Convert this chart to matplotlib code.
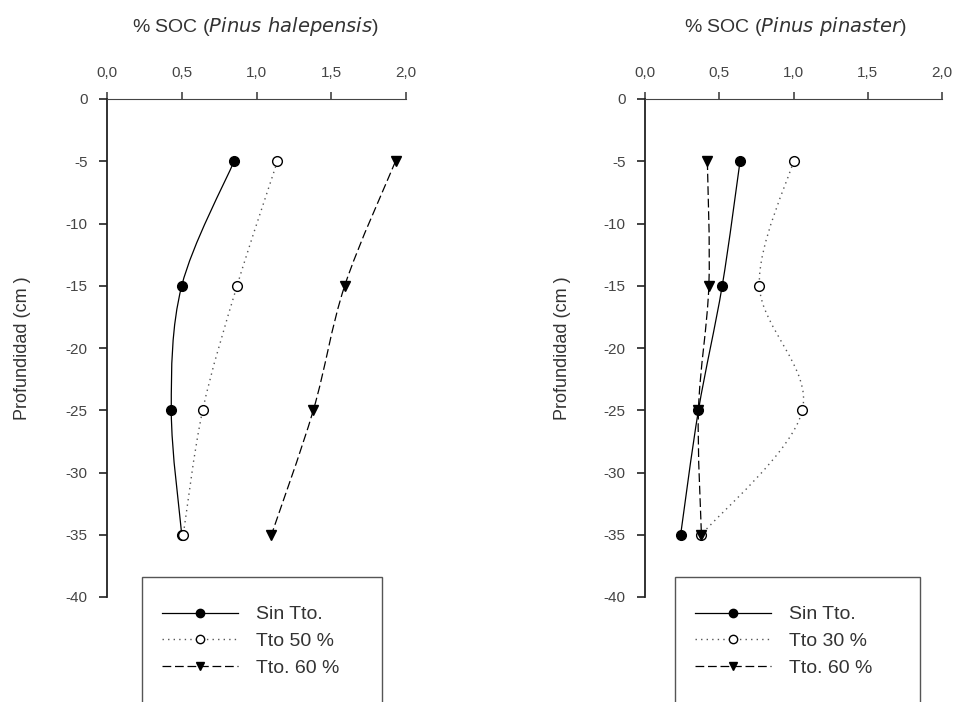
import numpy as np
import matplotlib.pyplot as plt
from matplotlib.path import Path
from matplotlib.patches import PathPatch, Rectangle
from matplotlib.lines import Line2D

plt.rcParams['font.family'] = ['Liberation Sans', 'DejaVu Sans']
plt.rcParams['axes.unicode_minus'] = False

depth = [-5, -15, -25, -35]

# Pinus halepensis
hal_sin = [0.85, 0.50, 0.43, 0.50]
hal_50 = [1.14, 0.87, 0.64, 0.51]
hal_60 = [1.93, 1.59, 1.38, 1.10]
hal_labels = ["Sin Tto.", "Tto 50 %", "Tto. 60 %"]

# Pinus pinaster
pin_sin = [0.64, 0.52, 0.36, 0.24]
pin_30 = [1.00, 0.77, 1.06, 0.38]
pin_60 = [0.42, 0.43, 0.36, 0.38]
pin_labels = ["Sin Tto.", "Tto 30 %", "Tto. 60 %"]

xticks = [0.0, 0.5, 1.0, 1.5, 2.0]
xticklabels = ["0,0", "0,5", "1,0", "1,5", "2,0"]
yticks = [0, -5, -10, -15, -20, -25, -30, -35, -40]

styles = [
    dict(ls="-", color="black", lw=0.9, marker="o", mfc="black", mec="black", ms=7),
    dict(ls=(0, (1, 3)), color="#555555", lw=1.0, marker="o", mfc="white", mec="black", ms=7),
    dict(ls=(0, (7, 3)), color="black", lw=0.9, marker="v", mfc="black", mec="black", ms=7),
]


def smooth_path(x, y):
    # Catmull-Rom through the points, drawn as cubic Bezier segments
    p = np.column_stack([x, y]).astype(float)
    verts = [p[0]]
    codes = [Path.MOVETO]
    n = len(p)
    for i in range(n - 1):
        p0 = p[i - 1] if i > 0 else p[i]
        p1 = p[i]
        p2 = p[i + 1]
        p3 = p[i + 2] if i + 2 < n else p[i + 1]
        c1 = p1 + (p2 - p0) / 6.0
        c2 = p2 - (p3 - p1) / 6.0
        verts += [c1, c2, p2]
        codes += [Path.CURVE4] * 3
    return Path(verts, codes)


def draw_panel(ax, series, title_species, ylab_x, title_x):
    for vals, st in zip(series, styles):
        patch = PathPatch(smooth_path(vals, depth), fill=False, edgecolor=st["color"],
                          lw=st["lw"], linestyle=st["ls"], zorder=2)
        ax.add_patch(patch)
        ax.plot(vals, depth, ls="none", marker=st["marker"], ms=st["ms"],
                mfc=st["mfc"], mec=st["mec"], mew=1.0, zorder=3, clip_on=False)
    ax.set_xlim(0, 2.0)
    ax.set_ylim(-40, 0)
    ax.xaxis.tick_top()
    ax.set_xticks(xticks)
    ax.set_xticklabels(xticklabels)
    ax.set_yticks(yticks)
    ax.set_yticklabels([str(t) for t in yticks])
    ax.spines["right"].set_visible(False)
    ax.spines["bottom"].set_visible(False)
    ax.spines["top"].set_color("#444444")
    ax.spines["left"].set_color("#222222")
    ax.spines["left"].set_linewidth(1.3)
    ax.tick_params(axis="x", direction="out", length=5, width=1.2, colors="#444444",
                   labelsize=11, pad=9, labelcolor="#444444")
    ax.tick_params(axis="y", direction="out", length=6, width=1.2, colors="#222222",
                   labelsize=11, labelcolor="#444444", pad=8)
    ax.set_ylabel("Profundidad (cm )", fontsize=13, color="#333333")
    ax.yaxis.set_label_coords(ylab_x, 0.5)
    ax.text(title_x, 1.145, "% SOC (" + r"$\it{" + title_species.replace(" ", r"\ ") + "}$" + ")",
            transform=ax.transAxes, ha="center", va="center", fontsize=14, color="#333333")


fig = plt.figure(figsize=(9.57, 7.02), dpi=100)
W, H = 957.0, 702.0
ax1 = fig.add_axes([107 / W, 1 - 597 / H, (406 - 107) / W, (597 - 99) / H])
ax2 = fig.add_axes([645 / W, 1 - 597 / H, (942 - 645) / W, (597 - 99) / H])

draw_panel(ax1, [hal_sin, hal_50, hal_60], "Pinus halepensis", -0.254, 0.495)
draw_panel(ax2, [pin_sin, pin_30, pin_60], "Pinus pinaster", -0.249, 0.505)

# legend boxes (run past the bottom edge of the figure)
for (x0, x1), labels in [((142, 382), hal_labels), ((675, 920), pin_labels)]:
    rect = Rectangle((x0 / W, -0.05), (x1 - x0) / W, 0.05 + (1 - 577 / H),
                     transform=fig.transFigure, fill=False, edgecolor="#555555",
                     lw=1.0, clip_on=False)
    fig.patches.append(rect)
    handles = [Line2D([], [], ls=st["ls"], color=st["color"], lw=st["lw"],
                      marker=st["marker"], ms=6, mfc=st["mfc"], mec=st["mec"])
               for st in styles]
    fig.legend(handles, labels, loc="upper left",
               bbox_to_anchor=((x0 + 10) / W, 1 - 596 / H), frameon=False,
               fontsize=14, handlelength=3.9, handletextpad=0.95, labelspacing=0.48,
               labelcolor="#333333", borderpad=0)

fig.savefig("out.png", dpi=100)
